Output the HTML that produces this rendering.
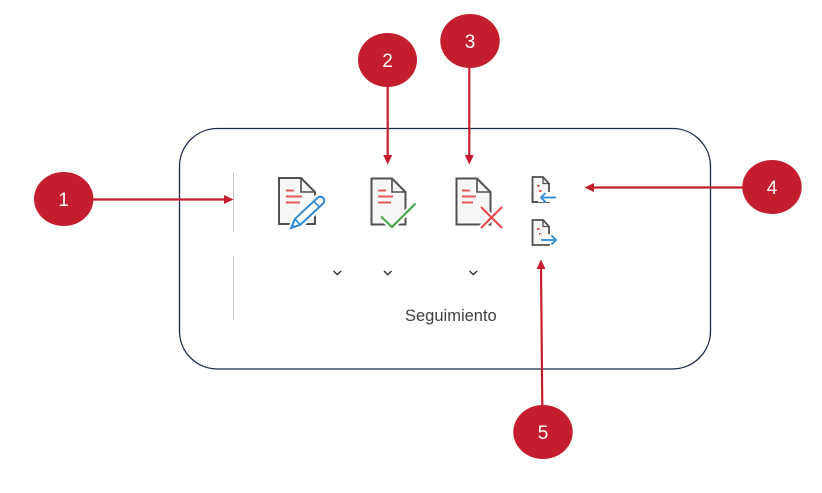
<!DOCTYPE html>
<html>
<head>
<meta charset="utf-8">
<style>
  html, body { margin:0; padding:0; background:#ffffff; }
  body { width:822px; height:493px; overflow:hidden; }
  svg { display:block; }
</style>
</head>
<body>
<svg width="822" height="493" viewBox="0 0 822 493" xmlns="http://www.w3.org/2000/svg">
  <rect x="0" y="0" width="822" height="493" fill="#ffffff"/>

  <!-- Rounded frame -->
  <rect x="179.5" y="128.5" width="531" height="240.5" rx="38" ry="38" fill="none" stroke="#1b2a4a" stroke-width="1.3"/>

  <!-- Separators -->
  <line x1="233.5" y1="172" x2="233.5" y2="232" stroke="#c8c8c8" stroke-width="1"/>
  <line x1="233.5" y1="257" x2="233.5" y2="320" stroke="#c8c8c8" stroke-width="1"/>

  <!-- Icon 1: doc + pencil -->
  <g stroke-linejoin="miter">
    <path d="M301,178 L279,178 L279,224 L315,224 L315,192 Z" fill="#f7f7f7" stroke="#505050" stroke-width="2"/>
    <path d="M301,178 L301,192 L315,192" fill="none" stroke="#505050" stroke-width="1.6"/>
    <line x1="286" y1="190.5" x2="294" y2="190.5" stroke="#ea5a5e" stroke-width="2"/>
    <line x1="286" y1="196.5" x2="302" y2="196.5" stroke="#ea5a5e" stroke-width="2"/>
    <line x1="286" y1="202.5" x2="300" y2="202.5" stroke="#ea5a5e" stroke-width="2"/>
    <g transform="translate(291,228) rotate(-43)">
      <path d="M0,0 L9,-5 L40,-5 A5,5 0 0 1 40,5 L9,5 Z" fill="#ffffff" stroke="#ffffff" stroke-width="5"/>
      <path d="M0,0 L9,-4 L40,-4 A4,4 0 0 1 40,4 L9,4 Z" fill="#ffffff" stroke="#2e8ad6" stroke-width="2"/>
      <line x1="9" y1="-4" x2="9" y2="4" stroke="#2e8ad6" stroke-width="1.8"/>
      <line x1="35" y1="-4" x2="35" y2="4" stroke="#2e8ad6" stroke-width="1.6"/>
      <path d="M0,0 L4,-2 L4,2 Z" fill="#2e8ad6"/>
    </g>
  </g>

  <!-- Icon 2: doc + check -->
  <g>
    <path d="M392,178.5 L371.5,178.5 L371.5,224.5 L405.5,224.5 L405.5,192 Z" fill="#f7f7f7" stroke="#505050" stroke-width="2"/>
    <path d="M392,178.5 L392,192 L405.5,192" fill="none" stroke="#505050" stroke-width="1.6"/>
    <line x1="378" y1="190.5" x2="386" y2="190.5" stroke="#ea5a5e" stroke-width="2"/>
    <line x1="378" y1="196.5" x2="393" y2="196.5" stroke="#ea5a5e" stroke-width="2"/>
    <line x1="378" y1="202.5" x2="391" y2="202.5" stroke="#ea5a5e" stroke-width="2"/>
    <polyline points="381,216.5 392,227 415.5,203.5" fill="none" stroke="#ffffff" stroke-width="6"/>
    <polyline points="381,216.5 392,227 415.5,203.5" fill="none" stroke="#4aa64c" stroke-width="2.2"/>
  </g>

  <!-- Icon 3: doc + X -->
  <g>
    <path d="M477,178.5 L456.5,178.5 L456.5,224.5 L490.5,224.5 L490.5,192 Z" fill="#f7f7f7" stroke="#505050" stroke-width="2"/>
    <path d="M477,178.5 L477,192 L490.5,192" fill="none" stroke="#505050" stroke-width="1.6"/>
    <line x1="462" y1="190.5" x2="470" y2="190.5" stroke="#ea5a5e" stroke-width="2"/>
    <line x1="462" y1="196.5" x2="476" y2="196.5" stroke="#ea5a5e" stroke-width="2"/>
    <line x1="462" y1="202.5" x2="473" y2="202.5" stroke="#ea5a5e" stroke-width="2"/>
    <g stroke="#ffffff" stroke-width="6">
      <line x1="481" y1="207" x2="502" y2="228"/>
      <line x1="502" y1="207" x2="481" y2="228"/>
    </g>
    <g stroke="#ee4646" stroke-width="2">
      <line x1="481" y1="207" x2="502" y2="228"/>
      <line x1="502" y1="207" x2="481" y2="228"/>
    </g>
  </g>

  <!-- Icon 4: small doc + left arrow -->
  <g>
    <path d="M543,177 L532.5,177 L532.5,202 L549,202 L549,183.5 Z" fill="#f7f7f7" stroke="#505050" stroke-width="1.8"/>
    <path d="M543,177 L543,183.5 L549,183.5" fill="none" stroke="#505050" stroke-width="1.3"/>
    <rect x="537" y="185" width="2.5" height="2" fill="#ea5a5e"/>
    <rect x="539" y="190" width="2.5" height="2" fill="#ea5a5e"/>
    <rect x="538" y="192" width="20" height="10" fill="#ffffff"/>
    <path d="M532.5,193 L532.5,202 L538,202" fill="none" stroke="#505050" stroke-width="1.8"/>
    <line x1="541" y1="197.5" x2="556" y2="197.5" stroke="#2e8ad6" stroke-width="1.8"/>
    <polyline points="545.5,193 541,197.5 545.5,202" fill="none" stroke="#2e8ad6" stroke-width="1.8"/>
  </g>

  <!-- Icon 5: small doc + right arrow -->
  <g>
    <path d="M543,220 L532.5,220 L532.5,245 L549,245 L549,226.5 Z" fill="#f7f7f7" stroke="#505050" stroke-width="1.8"/>
    <path d="M543,220 L543,226.5 L549,226.5" fill="none" stroke="#505050" stroke-width="1.3"/>
    <rect x="537" y="228" width="2.5" height="2" fill="#ea5a5e"/>
    <rect x="539" y="233" width="2.5" height="2" fill="#ea5a5e"/>
    <rect x="540" y="234" width="18" height="10" fill="#ffffff"/>
    <line x1="541" y1="240" x2="556" y2="240" stroke="#2e8ad6" stroke-width="1.8"/>
    <polyline points="551.5,235.5 556,240 551.5,244.5" fill="none" stroke="#2e8ad6" stroke-width="1.8"/>
  </g>

  <!-- Chevrons -->
  <g fill="none" stroke="#333333" stroke-width="1.4">
    <polyline points="333.5,271 337.3,274.6 341.1,271"/>
    <polyline points="384,271 387.8,274.6 391.6,271"/>
    <polyline points="469.5,271 473.3,274.6 477.1,271"/>
  </g>

  <!-- Label -->
  <text x="405" y="321" font-family="'Liberation Sans', sans-serif" font-size="16.5" fill="#404040">Seguimiento</text>

  <!-- Arrows -->
  <g stroke="#c41e2e" stroke-width="2.2" fill="none">
    <line x1="92" y1="199.5" x2="225" y2="199.5"/>
    <line x1="387.7" y1="86" x2="387.7" y2="156"/>
    <line x1="469.3" y1="66" x2="469.3" y2="156"/>
    <line x1="743" y1="187.5" x2="593" y2="187.5"/>
    <line x1="542.3" y1="406" x2="541" y2="268"/>
  </g>
  <g fill="#c41e2e">
    <polygon points="233.5,199.5 224,195 224,204"/>
    <polygon points="387.7,164.5 383.2,155 392.2,155"/>
    <polygon points="469.3,164.5 464.8,155 473.8,155"/>
    <polygon points="584.5,187.5 594,183 594,192"/>
    <polygon points="541,259.5 536.5,269 545.5,269"/>
  </g>

  <!-- Callout circles -->
  <g fill="#c41e2e">
    <ellipse cx="63.7" cy="199" rx="29.7" ry="27"/>
    <ellipse cx="387.5" cy="60" rx="29.5" ry="27"/>
    <ellipse cx="470" cy="41" rx="29.7" ry="27"/>
    <ellipse cx="772" cy="187" rx="29.7" ry="27"/>
    <ellipse cx="543" cy="432" rx="29.7" ry="27"/>
  </g>
  <g font-family="'Liberation Sans', sans-serif" font-size="19" fill="#ffffff" text-anchor="middle">
    <text x="63.7" y="206">1</text>
    <text x="387.5" y="67">2</text>
    <text x="470" y="48">3</text>
    <text x="772" y="194">4</text>
    <text x="543" y="439">5</text>
  </g>
</svg>
</body>
</html>
